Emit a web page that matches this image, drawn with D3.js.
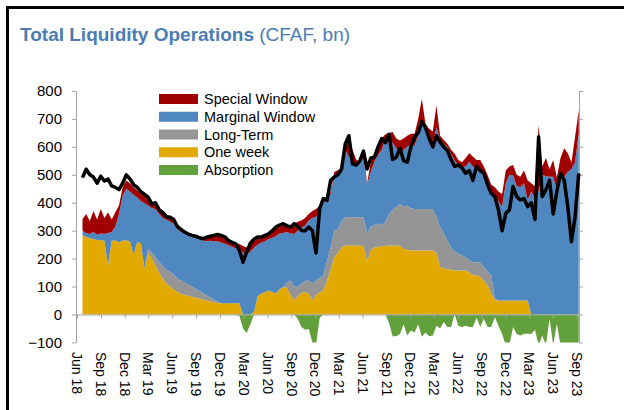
<!DOCTYPE html>
<html>
<head>
<meta charset="utf-8">
<title>Total Liquidity Operations</title>
<script src="https://d3js.org/d3.v7.min.js"></script>
<style>
  body { margin: 0; background: #fff; }
  svg { display: block; font-family: "Liberation Sans", Arial, sans-serif; }
  .axis path, .axis line { stroke: #a6a6a6; }
  .axis text { fill: #000; font-size: 15px; }
</style>
</head>
<body>
<div id="chart"></div>
<script>
// observations every two weeks, the first one on 22 Jun 2018
var startDate = new Date(2018, 5, 22);
var stepDays = 14;

var oneWeek = [
  283,278,274,270,267,266,265,175,265,265,
  258,265,265,262,215,259,255,165,220,200,
  175,150,128,110,100,90,80,74,70,67,
  63,60,57,53,50,47,44,41,40,40,
  40,40,40,40,0,0,0,10,65,75,
  80,86,80,75,90,98,95,70,50,65,
  78,80,74,50,70,80,86,120,160,205,
  220,240,247,247,247,247,247,245,190,230,
  241,241,245,245,247,247,247,247,235,232,
  229,229,229,229,229,229,229,220,170,165,
  163,160,157,157,157,157,150,140,140,135,
  120,105,75,52,50,50,50,50,50,50,
  50,50,50,0,0,0,0,0,0,0,
  0,0,0,0,0,0,0
];
var longTerm = [
  0,0,0,0,0,0,0,0,0,0,
  0,0,0,0,0,0,0,0,15,22,
  30,38,45,50,52,52,50,48,44,40,
  36,32,28,24,18,14,10,5,0,0,
  0,0,0,0,0,0,0,0,0,0,
  0,0,0,0,0,0,20,52,50,33,
  32,40,48,62,52,50,54,70,80,95,
  85,95,101,101,101,101,101,103,100,85,
  79,84,75,85,113,128,138,149,150,158,
  151,149,149,149,149,149,149,130,143,125,
  102,80,68,61,55,48,45,47,47,50,
  50,50,65,8,0,0,0,0,0,0,
  0,0,0,0,0,0,0,0,0,0,
  0,0,0,0,0,0,0
];
var marginal = [
  17,14,14,25,18,24,23,117,30,50,
  102,160,185,178,213,161,150,233,155,158,
  173,172,172,180,180,183,175,173,176,175,
  179,183,187,188,194,203,208,216,218,213,
  208,202,196,192,222,215,225,230,185,183,
  182,184,195,205,200,194,180,168,188,202,
  200,198,214,233,228,240,260,225,190,200,
  195,180,242,217,197,182,192,212,175,195,
  228,245,270,295,260,240,210,179,205,210,
  228,227,262,302,282,247,234,320,312,320,
  334,335,325,317,315,325,352,343,330,332,
  335,325,306,365,355,336,420,450,448,410,
  405,420,360,440,415,440,500,495,493,493,
  446,493,493,510,520,545,648
];
var special = [
  42,68,47,75,55,88,57,73,45,51,
  30,30,30,30,27,25,27,27,25,20,
  20,20,20,18,18,15,13,13,10,10,
  8,8,8,11,18,18,21,22,23,22,
  17,16,18,20,23,25,25,22,22,20,
  18,17,20,25,25,26,25,28,37,32,
  26,27,24,25,28,20,10,11,10,10,
  16,12,20,82,45,25,5,27,5,35,
  27,40,40,20,30,38,35,48,40,40,
  39,42,60,92,22,40,43,78,15,15,
  12,15,25,18,18,30,30,35,36,36,
  25,20,19,30,35,44,45,30,37,40,
  38,45,70,30,43,238,30,65,27,60,
  44,67,102,67,25,91,84
];
var absorption = [
  0,0,0,0,0,0,0,0,0,0,
  0,0,0,0,0,0,0,0,0,0,
  0,0,0,0,0,0,0,0,0,0,
  0,0,0,0,0,0,0,0,0,0,
  0,0,0,-5,-50,-66,-35,0,0,0,
  0,0,0,0,0,0,0,0,0,-15,
  -45,-55,-52,-100,-110,-12,0,0,0,0,
  0,0,0,0,0,0,0,0,0,0,
  0,0,0,0,-30,-78,-78,-70,-35,-75,
  -57,-65,-35,-80,-65,-78,-75,-40,-50,-27,
  -45,-45,0,-40,-45,-40,-45,-45,-12,-45,
  -15,-45,-45,-10,-40,-70,-110,-110,-45,-70,
  -75,-69,-69,-70,-55,-110,-75,-110,-15,-110,
  -33,-110,-110,-110,-110,-110,-110
];
// black line
var totalLine = [
  490,520,500,492,470,495,478,485,460,455,
  447,470,500,485,465,455,440,430,420,395,
  400,375,365,350,348,340,315,305,295,288,
  283,280,275,271,277,280,283,286,283,278,
  265,258,253,229,187,225,255,270,277,277,
  283,289,300,313,320,325,318,313,325,315,
  301,300,313,300,220,380,415,408,480,492,
  500,520,610,640,539,535,550,585,521,560,
  563,600,630,615,645,555,563,595,550,545,
  600,635,650,690,670,630,600,640,617,600,
  587,555,530,535,525,505,515,480,530,515,
  505,465,434,422,374,300,362,374,458,422,
  410,415,386,400,340,636,422,446,480,360,
  440,505,481,386,260,350,505
];

var seriesNames = ["One week", "Long-Term", "Marginal Window", "Special Window"];
var seriesColors = ["#e2a900", "#959595", "#4f88c0", "#a00000"];
var absorptionColor = "#62a03c";
var legendNames = ["Special Window", "Marginal Window", "Long-Term", "One week", "Absorption"];
var legendColors = ["#a00000", "#4f88c0", "#959595", "#e2a900", "#62a03c"];
var yTicks = [-100, 0, 100, 200, 300, 400, 500, 600, 700, 800];
var firstTick = new Date(2018, 5, 1), lastTick = new Date(2023, 8, 1);

var width = 624, height = 410;
var plot = {left: 76, right: 579, top: 91, bottom: 342.4};

var data = oneWeek.map(function(v, i) {
  return {
    date: d3.timeDay.offset(startDate, i * stepDays),
    "One week": v,
    "Long-Term": longTerm[i],
    "Marginal Window": marginal[i],
    "Special Window": special[i],
    absorption: absorption[i],
    line: totalLine[i]
  };
});

var svg = d3.select("#chart").append("svg")
  .attr("width", width)
  .attr("height", height);

// frame
svg.append("path")
  .attr("d", "M7.5," + height + "V7.5H" + width)
  .attr("fill", "none")
  .attr("stroke", "#000")
  .attr("stroke-width", 3);

// title: bold part and unit in one line
var title = svg.append("text")
  .attr("x", 20)
  .attr("y", 41)
  .attr("fill", "#4a7db4")
  .style("font-size", "19px");
title.append("tspan")
  .attr("font-weight", "bold")
  .text("Total Liquidity Operations");
title.append("tspan")
  .text(" (CFAF, bn)");

var x = d3.scaleTime()
  .domain([new Date(2018, 4, 28), new Date(2023, 8, 9)])
  .range([plot.left, plot.right]);

var y = d3.scaleLinear()
  .domain([-100, 800])
  .range([plot.bottom, plot.top]);

svg.append("clipPath").attr("id", "clip")
  .append("rect")
  .attr("x", plot.left).attr("y", plot.top)
  .attr("width", plot.right - plot.left)
  .attr("height", plot.bottom - plot.top);

var g = svg.append("g").attr("clip-path", "url(#clip)");

// stacked areas
var stack = d3.stack().keys(seriesNames);
var layers = stack(data);

var area = d3.area()
  .x(function(d) { return x(d.data.date); })
  .y0(function(d) { return y(d[0]); })
  .y1(function(d) { return y(d[1]); });

g.selectAll(".layer")
  .data(layers)
  .enter().append("path")
    .attr("class", "layer")
    .attr("d", area)
    .attr("fill", function(d, i) { return seriesColors[i]; });

// absorption below zero
g.append("path")
  .datum(data)
  .attr("fill", absorptionColor)
  .attr("d", d3.area()
    .x(function(d) { return x(d.date); })
    .y0(y(0))
    .y1(function(d) { return y(d.absorption); }));

// axes
var xTicks = d3.timeMonth.range(firstTick, d3.timeMonth.offset(lastTick, 1), 3);

svg.append("g")
  .attr("class", "axis")
  .attr("transform", "translate(0," + y(0) + ")")
  .call(d3.axisBottom(x).tickValues(xTicks).tickSize(4).tickSizeOuter(0).tickFormat(""));

svg.append("g")
  .attr("class", "axis")
  .attr("transform", "translate(" + plot.left + ",0)")
  .call(d3.axisLeft(y).tickValues(yTicks).tickSize(4).tickSizeOuter(0).tickPadding(10));

svg.append("g")
  .attr("class", "axis")
  .attr("transform", "translate(" + plot.right + ",0)")
  .call(d3.axisRight(y).tickValues(yTicks).tickSize(4).tickSizeOuter(0).tickFormat(""));

// month labels, rotated
svg.append("g").selectAll("text")
  .data(xTicks)
  .enter().append("text")
    .attr("transform", function(d) { return "translate(" + x(d) + ",352) rotate(90)"; })
    .attr("dy", "0.35em")
    .style("font-size", "14px")
    .text(d3.timeFormat("%b %y"));

// black line
svg.append("path")
  .datum(data)
  .attr("fill", "none")
  .attr("stroke", "#000")
  .attr("stroke-width", 3.5)
  .attr("stroke-linejoin", "round")
  .attr("d", d3.line()
    .x(function(d) { return x(d.date); })
    .y(function(d) { return y(d.line); }));

// legend
var legend = svg.append("g").selectAll("g")
  .data(legendNames)
  .enter().append("g")
    .attr("transform", function(d, i) { return "translate(159," + (99 + i * 17.75) + ")"; });

legend.append("rect")
  .attr("y", -5)
  .attr("width", 39)
  .attr("height", 10)
  .attr("fill", function(d, i) { return legendColors[i]; });

legend.append("text")
  .attr("x", 45)
  .attr("dy", "0.35em")
  .style("font-size", "14.5px")
  .text(function(d) { return d; });
</script>
</body>
</html>
